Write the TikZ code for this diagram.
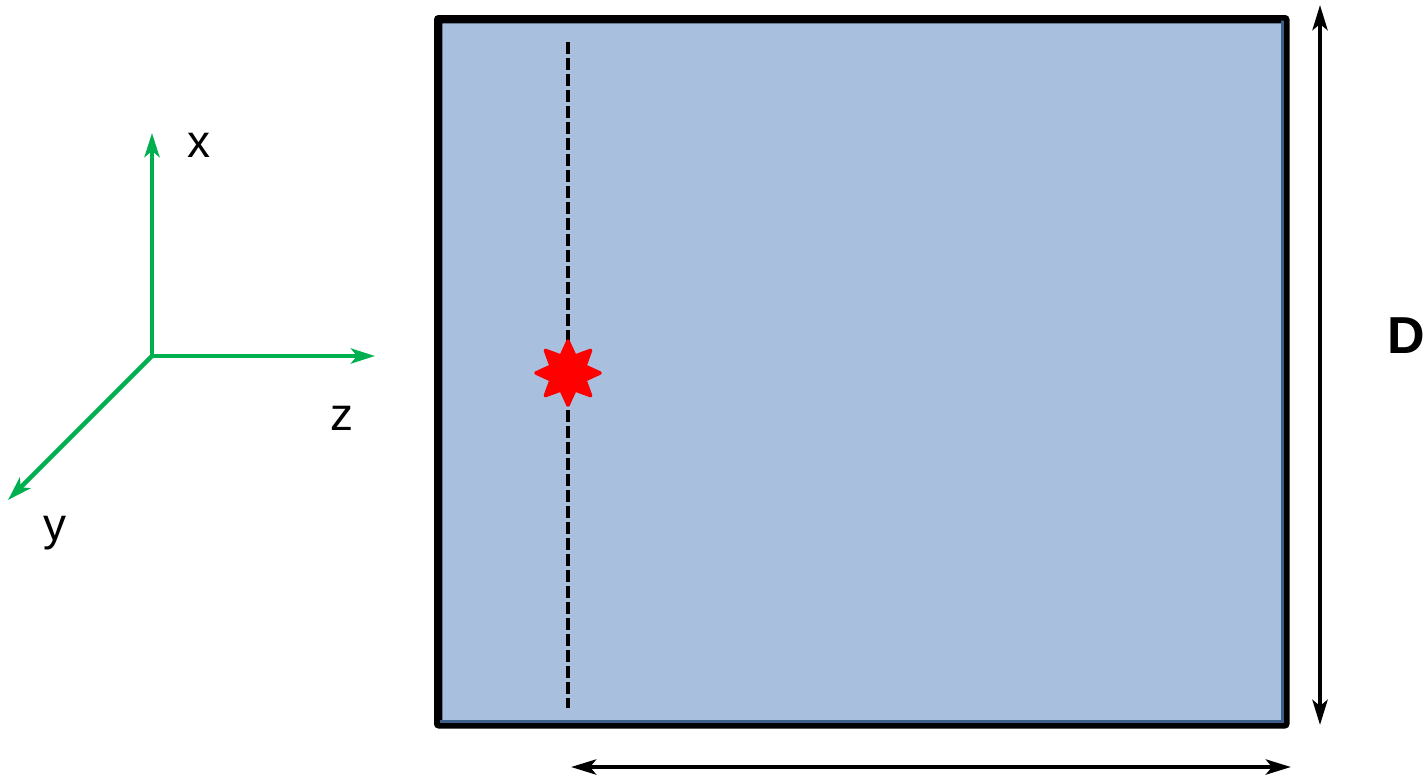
\documentclass[tikz,border=0pt]{standalone}
\usepackage{fontspec}
\setmainfont{Liberation Sans}
\usetikzlibrary{arrows.meta,shapes.geometric,positioning}
\definecolor{slabblue}{HTML}{A8C0DE}
\definecolor{slabedge}{HTML}{3C5F8C}
\definecolor{axisgreen}{HTML}{00B050}

\begin{document}
\begin{tikzpicture}[x=1pt,y=-1pt]
  \tikzset{
    axis/.style={axisgreen, line width=4.5pt, -{Stealth[length=24pt, width=15pt, inset=6pt]}},
    axlabel/.style={font=\fontsize{46}{50}\selectfont, inner sep=0pt, anchor=base},
    dim/.style={black, line width=4.5pt, {Stealth[length=25pt, width=15pt, inset=6pt]}-{Stealth[length=25pt, width=15pt, inset=6pt]}},
    slab/.style={draw=black, fill=slabblue, line width=5.5pt, rounded corners=2pt, minimum width=844.5pt, minimum height=702.5pt, inner sep=0pt},
    track/.style={black, line width=3.5pt, dash pattern=on 11.5pt off 4.5pt},
    burst/.style={star, star points=8, star point ratio=1.75, minimum size=64pt, inner sep=0pt, fill=red, draw=red, line width=3.5pt, line join=round}
  }
  \useasboundingbox (0,0) rectangle (1424,777);

  % Coordinate axes
  \coordinate (O) at (152,356);
  \coordinate (xend) at (152,133);
  \coordinate (zend) at (375,356);
  \coordinate (yend) at (8,500);
  \draw[axis] (O) -- (xend);
  \draw[axis] (O) -- (zend);
  \draw[axis] (O) -- (yend);
  \node[axlabel] (xlab) at (199,157) {x};
  \node[axlabel] (zlab) at (342,430) {z};
  \node[axlabel] (ylab) at (55,540) {y};

  % Slab with dark inner edge
  \node[slab] (slab) at (861.75,371.75) {};
  \fill[slabedge] ([shift={(-6pt,2.75pt)}]slab.north east) rectangle ([shift={(-2.75pt,2.75pt)}]slab.south east);
  \fill[slabedge] ([shift={(2.75pt,6pt)}]slab.south west) rectangle ([shift={(-2.75pt,2.75pt)}]slab.south east);
  \draw[line width=5.5pt, rounded corners=2pt] (slab.north west) rectangle (slab.south east);

  % Source track and burst
  \coordinate (ttop) at (568,42);
  \coordinate (tbot) at (568,708);
  \draw[track] (ttop) -- (tbot);
  \node[burst] (src) at (568,373) {};

  % Dimension arrows
  \coordinate (dtop) at (1320,5);
  \coordinate (dbot) at (1320,725);
  \draw[dim] (dtop) -- (dbot);
  \node[font=\fontsize{52}{56}\selectfont\bfseries, inner sep=0pt, anchor=base west] (Dlab) at (1387,353) {D};
  \coordinate (wleft) at (571,767);
  \coordinate (wright) at (1291,767);
  \draw[dim] (wleft) -- (wright);
\end{tikzpicture}
\end{document}
